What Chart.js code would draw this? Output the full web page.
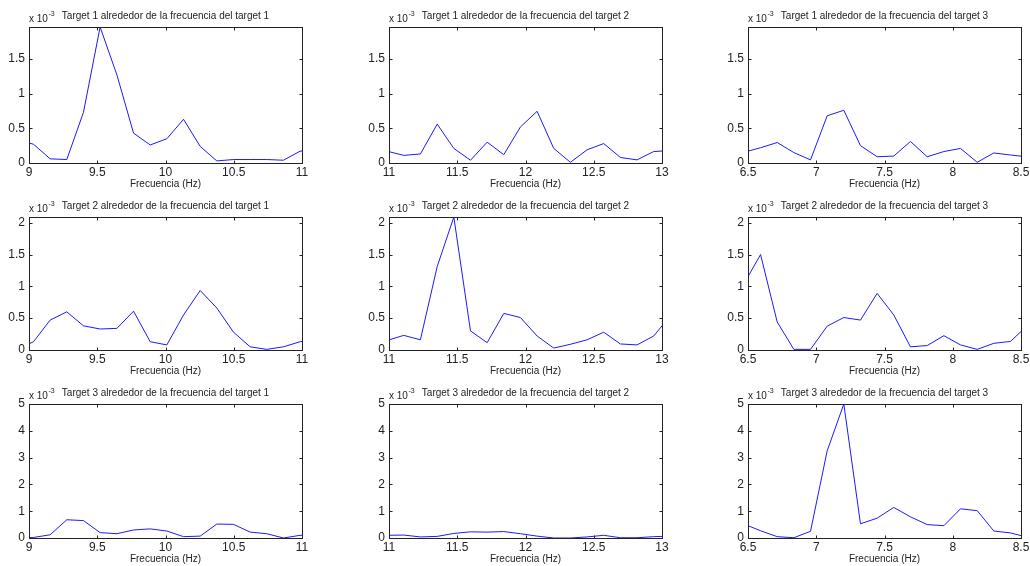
<!DOCTYPE html>
<html>
<head>
<meta charset="utf-8">
<script src="https://cdn.jsdelivr.net/npm/chart.js@4.4.1/dist/chart.umd.min.js"></script>
<style>
  body { margin: 0; background: #fff; width: 1030px; height: 566px; overflow: hidden; position: relative; }
  canvas { position: absolute; }
</style>
</head>
<body>
<script>
// frequency bins (Hz) around each target frequency
const freqT1 = [8.911, 9.033, 9.155, 9.277, 9.399, 9.521, 9.644, 9.766, 9.888, 10.010, 10.132, 10.254, 10.376, 10.498, 10.620, 10.742, 10.864, 10.986, 11.108];
const freqT2 = [10.986, 11.108, 11.230, 11.353, 11.475, 11.597, 11.719, 11.841, 11.963, 12.085, 12.207, 12.329, 12.451, 12.573, 12.695, 12.817, 12.939, 13.062];
const freqT3 = [6.470, 6.592, 6.714, 6.836, 6.958, 7.080, 7.202, 7.324, 7.446, 7.568, 7.690, 7.813, 7.935, 8.057, 8.179, 8.301, 8.423, 8.545];

// spectrum values (x 10^-3), row = target signal, column = target frequency
const t1f1 = [0.34, 0.27, 0.06, 0.05, 0.73, 1.96, 1.27, 0.43, 0.26, 0.35, 0.63, 0.24, 0.03, 0.05, 0.05, 0.05, 0.04, 0.17, 0.20];
const t1f2 = [0.17, 0.11, 0.13, 0.56, 0.21, 0.04, 0.30, 0.12, 0.52, 0.745, 0.21, 0.01, 0.19, 0.28, 0.08, 0.045, 0.165, 0.18];
const t1f3 = [0.155, 0.22, 0.295, 0.15, 0.045, 0.68, 0.76, 0.25, 0.09, 0.10, 0.31, 0.09, 0.165, 0.21, 0.01, 0.145, 0.115, 0.09];

const t2f1 = [0.01, 0.13, 0.47, 0.60, 0.38, 0.33, 0.34, 0.61, 0.13, 0.08, 0.55, 0.935, 0.66, 0.28, 0.05, 0.01, 0.05, 0.13, 0.17];
const t2f2 = [0.15, 0.23, 0.16, 1.31, 2.09, 0.30, 0.115, 0.575, 0.51, 0.22, 0.03, 0.09, 0.16, 0.28, 0.095, 0.08, 0.22, 0.54];
const t2f3 = [1.04, 1.50, 0.44, 0.01, 0.01, 0.375, 0.51, 0.47, 0.89, 0.55, 0.05, 0.07, 0.225, 0.08, 0.01, 0.105, 0.135, 0.38];

const t3f1 = [0.0, 0.02, 0.12, 0.68, 0.65, 0.20, 0.16, 0.30, 0.34, 0.26, 0.05, 0.07, 0.52, 0.51, 0.22, 0.16, 0.0, 0.10, 0.12];
const t3f2 = [0.10, 0.11, 0.04, 0.06, 0.17, 0.23, 0.22, 0.24, 0.16, 0.07, 0.0, 0.0, 0.04, 0.10, 0.01, 0.01, 0.05, 0.07];
const t3f3 = [0.52, 0.27, 0.05, 0.01, 0.25, 3.25, 5.00, 0.53, 0.74, 1.14, 0.79, 0.50, 0.46, 1.09, 1.02, 0.26, 0.19, 0.03];

// axis ranges and ticks
const xRanges = [[9, 11], [11, 13], [6.5, 8.5]];
const yMax = [1.96, 2.09, 5];
const yStep = [0.5, 0.5, 1];
const xStep = 0.5;

const freqs = [freqT1, freqT2, freqT3];
const values = [[t1f1, t1f2, t1f3], [t2f1, t2f2, t2f3], [t3f1, t3f2, t3f3]];
const titles = [
  ['Target 1 alrededor de la frecuencia del target 1', 'Target 1 alrededor de la frecuencia del target 2', 'Target 1 alrededor de la frecuencia del target 3'],
  ['Target 2 alrededor de la frecuencia del target 1', 'Target 2 alrededor de la frecuencia del target 2', 'Target 2 alrededor de la frecuencia del target 3'],
  ['Target 3 alrededor de la frecuencia del target 1', 'Target 3 alrededor de la frecuencia del target 2', 'Target 3 alrededor de la frecuencia del target 3']
];
const xTitle = 'Frecuencia (Hz)';

// layout of the axes boxes on the page
const colLeft = [29, 389, 748];
const axW = 273;
const rowTop = [27, 217, 404];
const axH = [136, 133, 134];
const padL = 29, padT = 27, padB = 27, padR = 12;

const FONT = '"Liberation Sans", Arial, sans-serif';
const TEXT = '#222';

// MATLAB style numbers: 1 not 1.0, 9 not 9.0
const fmt = v => String(+(+v).toFixed(2));

// MATLAB-like box, inner ticks, exponent label and title
const matlabAxes = {
  id: 'matlabAxes',
  afterDraw(chart, args, opts) {
    const { ctx, chartArea: a, scales: { x, y } } = chart;
    const L = Math.round(a.left) + 0.5, R = Math.round(a.right) + 0.5;
    const T = Math.round(a.top) + 0.5, B = Math.round(a.bottom) + 0.5;
    ctx.save();
    ctx.strokeStyle = '#222';
    ctx.lineWidth = 1;
    ctx.strokeRect(L, T, R - L, B - T);
    ctx.beginPath();
    x.ticks.forEach(t => {
      const px = Math.round(x.getPixelForValue(t.value)) + 0.5;
      ctx.moveTo(px, B); ctx.lineTo(px, B - 3);
      ctx.moveTo(px, T); ctx.lineTo(px, T + 3);
    });
    y.ticks.forEach(t => {
      const py = Math.round(y.getPixelForValue(t.value)) + 0.5;
      ctx.moveTo(L, py); ctx.lineTo(L + 3, py);
      ctx.moveTo(R, py); ctx.lineTo(R - 3, py);
    });
    ctx.stroke();

    ctx.fillStyle = TEXT;
    ctx.textBaseline = 'alphabetic';
    ctx.font = '10px ' + FONT;
    ctx.textAlign = 'left';
    ctx.fillText('x 10', a.left, a.top - 5.5);
    const w = ctx.measureText('x 10').width;
    ctx.font = '7px ' + FONT;
    ctx.fillText('-3', a.left + w + 0.5, a.top - 11);
    ctx.font = '10px ' + FONT;
    ctx.textAlign = 'center';
    ctx.fillText(opts.title, (a.left + a.right) / 2, a.top - 8);
    ctx.restore();
  }
};

for (let r = 0; r < 3; r++) {
  for (let c = 0; c < 3; c++) {
    const canvas = document.createElement('canvas');
    const W = padL + axW + padR;
    const H = padT + axH[r] + padB;
    canvas.width = W;
    canvas.height = H;
    canvas.style.left = (colLeft[c] - padL) + 'px';
    canvas.style.top = (rowTop[r] - padT) + 'px';
    canvas.style.width = W + 'px';
    canvas.style.height = H + 'px';
    document.body.appendChild(canvas);

    const pts = freqs[c].map((f, i) => ({ x: f, y: values[r][c][i] }));

    new Chart(canvas.getContext('2d'), {
      type: 'line',
      data: {
        datasets: [{
          data: pts,
          borderColor: '#1a1aff',
          borderWidth: 1,
          pointRadius: 0,
          tension: 0,
          fill: false,
          clip: { left: 0, right: 0, top: 1, bottom: 1 }
        }]
      },
      options: {
        responsive: false,
        animation: false,
        devicePixelRatio: 1,
        layout: { padding: { left: 0, top: padT, right: padR, bottom: 0 } },
        plugins: {
          legend: { display: false },
          tooltip: { enabled: false },
          matlabAxes: { title: titles[r][c] }
        },
        scales: {
          x: {
            type: 'linear',
            min: xRanges[c][0],
            max: xRanges[c][1],
            grid: { display: false, drawTicks: false },
            border: { display: false },
            ticks: {
              stepSize: xStep,
              padding: 2,
              maxRotation: 0,
              autoSkip: false,
              color: TEXT,
              font: { family: FONT, size: 12 },
              callback: fmt
            },
            title: { display: true, text: xTitle, padding: 0, color: TEXT, font: { family: FONT, size: 10 } },
            afterFit: s => { s.height = padB; }
          },
          y: {
            min: 0,
            max: yMax[r],
            grid: { display: false, drawTicks: false },
            border: { display: false },
            ticks: {
              stepSize: yStep[r],
              includeBounds: false,
              padding: 4,
              color: TEXT,
              font: { family: FONT, size: 12 },
              callback: fmt
            },
            afterFit: s => { s.width = padL; }
          }
        }
      },
      plugins: [matlabAxes]
    });
  }
}
</script>
</body>
</html>
